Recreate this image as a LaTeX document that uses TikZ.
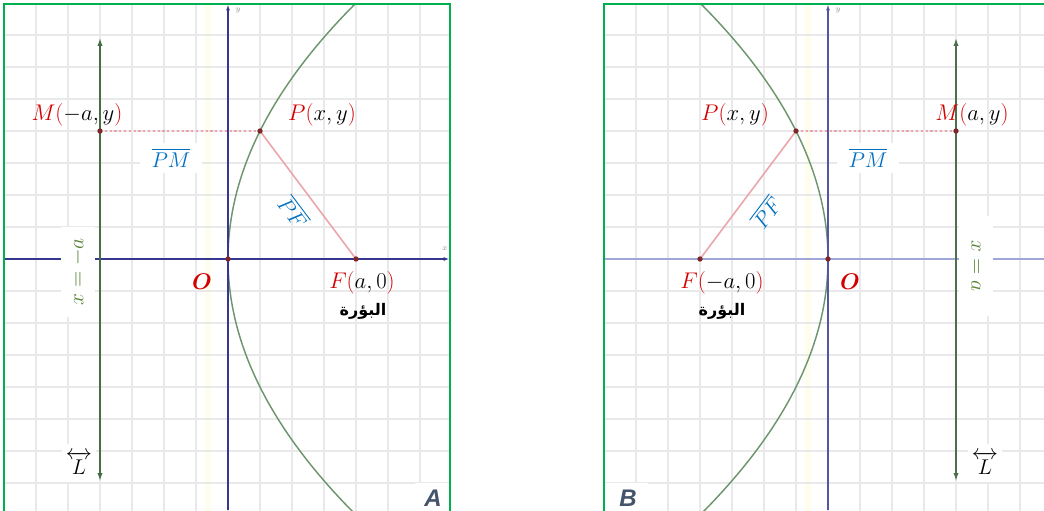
\RequirePackage{fix-cm}
\documentclass[tikz,border=0pt]{standalone}
\usepackage{amsmath}
\usepackage{fontspec}
\newfontfamily\arabicfont[Script=Arabic]{DejaVu Sans}
\newfontfamily\panelfont{Liberation Sans}
\TeXXeTstate=1
\usetikzlibrary{arrows.meta}
\definecolor{panelgreen}{RGB}{0,176,80}
\definecolor{gridgray}{RGB}{233,233,236}
\definecolor{axisblue}{RGB}{55,55,145}
\definecolor{axislav}{RGB}{160,166,215}
\definecolor{dirgreen}{RGB}{70,110,70}
\definecolor{parab}{RGB}{110,150,110}
\definecolor{ptred}{RGB}{125,40,40}
\definecolor{segpink}{RGB}{235,165,170}
\definecolor{lblred}{RGB}{210,0,0}
\definecolor{lblblue}{RGB}{0,112,192}
\definecolor{lblgreen}{RGB}{84,130,53}
\definecolor{slate}{RGB}{68,84,106}
\definecolor{tinygray}{RGB}{140,140,140}
\begin{document}
\begin{tikzpicture}[x=0.75pt,y=-0.75pt,
  gridline/.style={draw=gridgray, line width=0.9pt},
  border/.style={draw=panelgreen, line width=1.6pt},
  axisline/.style={draw=axisblue, line width=0.9pt},
  dirline/.style={draw=dirgreen, line width=1.1pt, {Latex[length=6pt,width=4pt]}-{Latex[length=6pt,width=4pt]}},
  curve/.style={draw=parab, line width=1.1pt},
  dotseg/.style={draw=segpink, line width=1.6pt, dotted},
  seg/.style={draw=segpink, line width=1.2pt},
  lbl/.style={font=\fontsize{17}{20}\selectfont, inner sep=1pt},
  bluelbl/.style={font=\fontsize{16}{19}\selectfont, inner sep=1pt, text=lblblue},
  greenlbl/.style={font=\fontsize{16}{19}\selectfont, inner sep=1pt, text=lblgreen, fill=white, minimum width=67pt, minimum height=25pt},
  lbox/.style={font=\fontsize{16}{19}\selectfont, inner sep=1pt, fill=white, minimum width=25pt, minimum height=29pt},
  arlbl/.style={font=\arabicfont\bfseries\fontsize{12}{14}\selectfont, inner sep=1pt},
  panellbl/.style={font=\panelfont\bfseries\itshape\fontsize{18}{20}\selectfont, text=slate, inner sep=0pt},
  panelbox/.style={fill=white, draw=none},
  tiny/.style={font=\fontsize{6}{7}\selectfont, text=tinygray, inner sep=0pt}
]
\useasboundingbox (0,0) rectangle (1044,510);

% ================= LEFT PANEL =================
\begin{scope}
  \clip (4,4) rectangle (450,512);
  \fill[yellow!7] (205,4) rectangle (211,512);
  \foreach \i in {-7,...,7} \draw[gridline] (228+32*\i,0) -- (228+32*\i,512);
  \foreach \j in {-8,...,8} \draw[gridline] (0,259+32*\j) -- (460,259+32*\j);
  \draw[curve] plot[domain=-8.2:8.3, samples=90] ({228+2*\x*\x},{259-32*\x});
  \fill[panelbox] (415,483) rectangle (450,512);
\end{scope}
\coordinate (O1) at (228,259);
\coordinate (F1) at (356,259);
\coordinate (P1) at (260,131);
\coordinate (M1) at (100,131);
\coordinate (D1t) at (100,38);
\coordinate (D1b) at (100,481);
\coordinate (Y1b) at (228,510);
\coordinate (Y1t) at (228,5);
\coordinate (X1l) at (4,259);
\coordinate (X1r) at (449,259);
\draw[axisline, -{Latex[length=4pt,width=3pt]}] (Y1b) -- (Y1t);
\draw[axisline, -{Latex[length=4pt,width=3pt]}] (X1l) -- (X1r);
\draw[dirline] (D1t) -- (D1b);
\draw[dotseg] (M1) -- (P1);
\draw[seg] (P1) -- (F1);
\foreach \p in {M1,P1,F1,O1} \fill[ptred] (\p) circle (2pt);
\draw[border] (4,512) -- (4,4) -- (450,4) -- (450,512);

\node[tiny] (ty1) at (238,11) {$y$};
\node[tiny] (tx1) at (445,249) {$x$};
\node[lbl] (lM1) at (77,115) {$\textcolor{lblred}{M(}{-a},y\textcolor{lblred}{)}$};
\node[lbl] (lP1) at (322,115) {$\textcolor{lblred}{P(}x,y\textcolor{lblred}{)}$};
\node[bluelbl, fill=white, minimum width=47pt, minimum height=22pt] (lPM1) at (171,158) {$\overline{PM}$};
\node[bluelbl, rotate=-53] (lPF1) at (294,212) {$\overline{PF}$};
\node[greenlbl, rotate=90] (ldir1) at (78,272) {$x={-a}$};
\node[lbl, text=lblred] (lO1) at (202,282) {$\boldsymbol{O}$};
\node[lbl] (lF1) at (362,283) {$\textcolor{lblred}{F(}a,0\textcolor{lblred}{)}$};
\node[arlbl] (lB1) at (363,311) {\beginR البؤرة\endR};
\node[lbox] (lL1) at (79,463) {$\overleftrightarrow{L}$};
\node[panellbl, anchor=base] (lA) at (433,506) {A};

% ================= RIGHT PANEL =================
\begin{scope}
  \clip (604,4) rectangle (1046,512);
  \fill[yellow!7] (805,4) rectangle (811,512);
  \foreach \i in {-7,...,7} \draw[gridline] (828+32*\i,0) -- (828+32*\i,512);
  \foreach \j in {-8,...,8} \draw[gridline] (600,259+32*\j) -- (1050,259+32*\j);
  \draw[curve] plot[domain=-8.2:8.3, samples=90] ({828-2*\x*\x},{259-32*\x});
  \fill[panelbox] (604,483) rectangle (648,512);
\end{scope}
\coordinate (O2) at (828,259);
\coordinate (F2) at (700,259);
\coordinate (P2) at (796,131);
\coordinate (M2) at (956,131);
\coordinate (D2t) at (956,38);
\coordinate (D2b) at (956,481);
\coordinate (Y2b) at (828,510);
\coordinate (Y2t) at (828,5);
\coordinate (X2l) at (604,259);
\coordinate (X2r) at (1044,259);
\draw[draw=axislav, line width=2.2pt] (X2l) -- (X2r);
\draw[axisline, draw=axisblue!85, -{Latex[length=4pt,width=3pt]}] (Y2b) -- (Y2t);
\draw[dirline, draw=dirgreen!90!gray] (D2t) -- (D2b);
\draw[dotseg] (P2) -- (M2);
\draw[seg] (F2) -- (P2);
\foreach \p in {M2,P2,F2,O2} \fill[ptred] (\p) circle (2pt);
\draw[border] (604,512) -- (604,4) -- (1046,4);

\node[tiny] (ty2) at (838,11) {$y$};
\node[lbl] (lP2) at (735,115) {$\textcolor{lblred}{P(}x,y\textcolor{lblred}{)}$};
\node[lbl] (lM2) at (972,115) {$\textcolor{lblred}{M(}a,y\textcolor{lblred}{)}$};
\node[bluelbl, fill=white, minimum width=47pt, minimum height=22pt] (lPM2) at (868,158) {$\overline{PM}$};
\node[bluelbl, rotate=53] (lPF2) at (766,212) {$\overline{PF}$};
\node[greenlbl, rotate=-90, minimum width=75pt] (ldir2) at (976,266) {$x=a$};
\node[lbl, text=lblred] (lO2) at (850,282) {$\boldsymbol{O}$};
\node[lbl] (lF2) at (722,283) {$\textcolor{lblred}{F(}{-a},0\textcolor{lblred}{)}$};
\node[arlbl] (lB2) at (722,311) {\beginR البؤرة\endR};
\node[lbox] (lL2) at (985,463) {$\overleftrightarrow{L}$};
\node[panellbl, anchor=base] (lBp) at (628,506) {B};
\end{tikzpicture}
\end{document}
